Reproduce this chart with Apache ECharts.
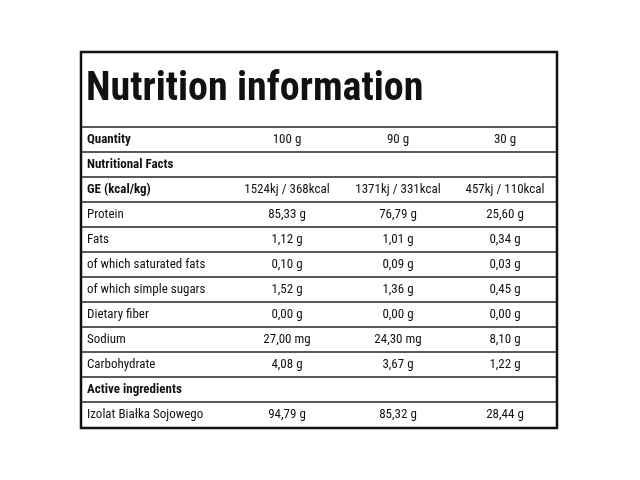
<!DOCTYPE html><html><head><meta charset="utf-8"><script src="https://cdn.jsdelivr.net/npm/echarts@6/dist/echarts.min.js"></script>
<style>html,body{margin:0;background:#fff}#c{width:640px;height:480px}</style></head><body><div id="c"></div><script>
const title = "Nutrition information";
const labels = ["Quantity","Nutritional Facts","GE (kcal/kg)","Protein","Fats","of which saturated fats","of which simple sugars","Dietary fiber","Sodium","Carbohydrate","Active ingredients","Izolat Białka Sojowego"];
const boldRows = [0,1,2,10];
const col100 = ["100 g","","1524kj / 368kcal","85,33 g","1,12 g","0,10 g","1,52 g","0,00 g","27,00 mg","4,08 g","","94,79 g"];
const col90 = ["90 g","","1371kj / 331kcal","76,79 g","1,01 g","0,09 g","1,36 g","0,00 g","24,30 mg","3,67 g","","85,32 g"];
const col30 = ["30 g","","457kj / 110kcal","25,60 g","0,34 g","0,03 g","0,45 g","0,00 g","8,10 g","1,22 g","","28,44 g"];
const F = "'Liberation Sans Narrow','Roboto Condensed',Roboto,sans-serif";
const L = 81, R = 557, T = 52, B = 428, top0 = 127, rh = 25;
const g = [];
g.push({type:'rect',shape:{x:L,y:T,width:R-L,height:B-T},style:{fill:'#fff',stroke:'#111',lineWidth:2.5}});
g.push({type:'text',style:{x:86,y:90,text:title,font:"bold 40px "+F,fill:'#111',textVerticalAlign:'middle'}});
const cx=[287,398,505], cols=[col100,col90,col30];
labels.forEach((lb,i)=>{
  const y=top0+i*rh;
  g.push({type:'line',shape:{x1:L,y1:y,x2:R,y2:y},style:{stroke:'#222',lineWidth:1.5}});
  const cy=y+rh/2;
  const b=boldRows.includes(i);
  g.push({type:'text',style:{x:87,y:cy,text:lb,font:(b?'bold ':'')+"13px "+F,fill:'#111',textVerticalAlign:'middle'}});
  cols.forEach((c,j)=>{ if(c[i]) g.push({type:'text',style:{x:cx[j],y:cy,text:c[i],font:"13px "+F,fill:'#111',textAlign:'center',textVerticalAlign:'middle'}});});
});
const ch=echarts.init(document.getElementById('c'));
ch.setOption({animation:false,graphic:g});
</script></body></html>
